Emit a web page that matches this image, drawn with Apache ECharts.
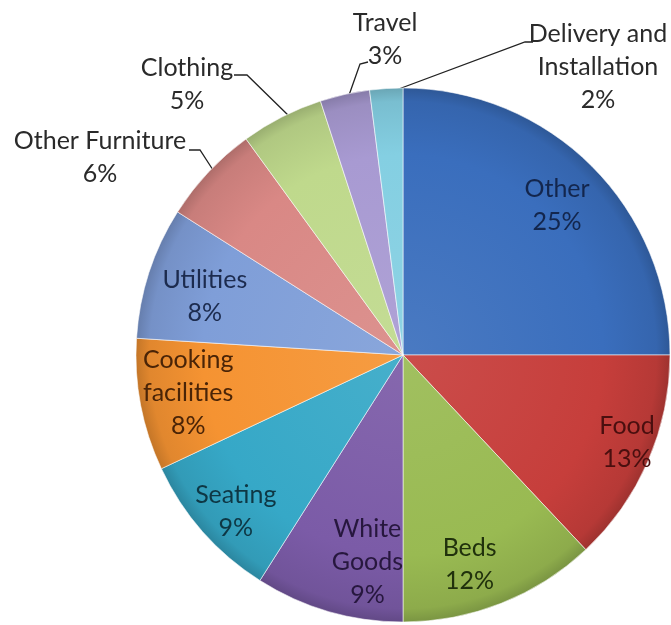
<!DOCTYPE html>
<html><head><meta charset="utf-8">
<script src="https://cdn.jsdelivr.net/npm/echarts@6/dist/echarts.min.js"></script>
<style>html,body{margin:0;padding:0;background:#fff}#c{width:671px;height:625px}</style>
</head><body><div id="c"></div>
<script>
// ---- data ----
const categories = ['Other','Food','Beds','White Goods','Seating','Cooking facilities','Utilities','Other Furniture','Clothing','Travel','Delivery and Installation'];
const values = [25,13,12,9,9,8,8,6,5,3,2];
const outsideCategories = ['Other Furniture','Clothing','Travel','Delivery and Installation'];

// ---- styles ----
const CX = 403, CY = 355, R = 267;
const colors = ['#3a6ebd','#c63e3b','#99ba52','#7b5ba7','#36a8c7','#f59332','#7f9ed8','#d98885','#bfd98c','#a89ad2','#84cfe2'];
const textColors = ['#13264d','#4a0f0f','#20310c','#27173e','#0e3744','#4a2407','#1c2b4e','#2a2a2a','#2a2a2a','#2a2a2a','#2a2a2a'];
const wrapped = {'White Goods':'White\nGoods','Cooking facilities':'Cooking\nfacilities','Delivery and Installation':'Delivery and\nInstallation'};
const insideTweak = {'Other':[3,1],'Food':[28,3],'Beds':[-12,11],'White Goods':[24,2],'Seating':[-7,15],'Cooking facilities':[-5,-2],'Utilities':[5,7]};
const outsideLayout = {
  'Delivery and Installation': {x:598, y:67, line:[[388,93],[525,42],[533,42]]},
  'Travel': {x:385, y:39, line:[[348,98],[360,64],[368,62]]},
  'Clothing': {x:187, y:84, line:[[290,117],[247,75],[234,75]]},
  'Other Furniture': {x:100, y:157, line:[[213,170],[200,150],[189,150]]}
};

function shade(hex, f){
  const n = parseInt(hex.slice(1),16);
  let r=(n>>16)&255, g=(n>>8)&255, b=n&255;
  if (f<0){ r=r*(1+f); g=g*(1+f); b=b*(1+f); }
  else { r=r+(255-r)*f; g=g+(255-g)*f; b=b+(255-b)*f; }
  return 'rgb('+Math.round(r)+','+Math.round(g)+','+Math.round(b)+')';
}
const total = values.reduce((a,b)=>a+b,0);

const seriesData = categories.map((name,i)=>{
  const outside = outsideCategories.indexOf(name) >= 0;
  return {
    name: name,
    value: values[i],
    itemStyle: {
      color: {type:'radial', x:CX, y:CY, r:R, global:true, colorStops:[
        {offset:0, color: shade(colors[i], 0.08)},
        {offset:0.75, color: colors[i]},
        {offset:0.95, color: shade(colors[i], -0.08)},
        {offset:1, color: shade(colors[i], -0.2)}
      ]}
    },
    label: {position: outside ? 'outside' : 'inside', color: textColors[i]},
    labelLine: {show: outside}
  };
});

const chart = echarts.init(document.getElementById('c'), null, {renderer:'canvas'});
chart.setOption({
  animation: false,
  series: [{
    type: 'pie',
    center: [CX, CY],
    radius: R,
    startAngle: 90,
    clockwise: true,
    avoidLabelOverlap: false,
    percentPrecision: 0,
    itemStyle: {borderColor: 'rgba(255,255,255,0.55)', borderWidth: 1},
    emphasis: {disabled: true},
    label: {
      show: true,
      fontFamily: 'Lato',
      fontSize: 25,
      lineHeight: 33,
      align: 'center',
      formatter: p => (wrapped[p.name] || p.name) + '\n' + p.percent + '%'
    },
    labelLine: {lineStyle: {color: '#222', width: 1.3}, smooth: false},
    labelLayout: function(p){
      const name = categories[p.dataIndex];
      const o = outsideLayout[name];
      if (o) return {x:o.x, y:o.y, align:'center', verticalAlign:'middle', labelLinePoints:o.line};
      let cum = 0; for (let k=0;k<p.dataIndex;k++) cum += values[k];
      const mid = (cum + values[p.dataIndex]/2)/total*2*Math.PI;
      const t = insideTweak[name] || [0,0];
      return {x: CX + 0.8*R*Math.sin(mid) + t[0], y: CY - 0.8*R*Math.cos(mid) + t[1], align:'center', verticalAlign:'middle'};
    },
    data: seriesData
  }]
});
</script>
</body></html>
